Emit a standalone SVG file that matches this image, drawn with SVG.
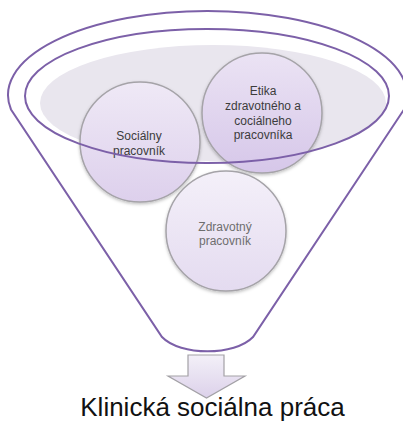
<svg xmlns="http://www.w3.org/2000/svg" width="403" height="422" viewBox="0 0 403 422">
<style>
.ring{fill:none;stroke:#7c60a8;stroke-width:2}
.circ{stroke:#a5a3a8;stroke-width:1.5}
.t{font-family:"Liberation Sans",Arial,sans-serif;font-size:12px;text-anchor:middle;fill:#3c3c3c}
.tz{fill:#6e6e6e}
.big{font-family:"Liberation Sans",Arial,sans-serif;font-size:26px;text-anchor:middle;fill:#111}
</style>
<defs>
<linearGradient id="g1" x1="0" y1="0" x2="0" y2="1">
<stop offset="0" stop-color="#efe9f6"/><stop offset="1" stop-color="#ddd0ec"/>
</linearGradient>
<linearGradient id="g2" x1="0" y1="0" x2="0" y2="1">
<stop offset="0" stop-color="#ebe3f4"/><stop offset="1" stop-color="#d6c7e9"/>
</linearGradient>
<linearGradient id="g3" x1="0" y1="0" x2="0" y2="1">
<stop offset="0" stop-color="#f4f0f9"/><stop offset="1" stop-color="#e4dbf0"/>
</linearGradient>
<linearGradient id="ga" x1="0" y1="0" x2="0" y2="1">
<stop offset="0" stop-color="#f3f0f8"/><stop offset="1" stop-color="#dcd1ea"/>
</linearGradient>
<filter id="sh" x="-20%" y="-20%" width="140%" height="140%">
<feDropShadow dx="0" dy="1.5" stdDeviation="1.5" flood-color="#000" flood-opacity="0.25"/>
</filter>
</defs>
<g id="funnel-bg">
<ellipse cx="213" cy="103" rx="173" ry="58" fill="#e9e6ee"/>
</g>
<g id="node-socialny">
<circle class="circ" cx="140" cy="142" r="60" fill="url(#g1)" filter="url(#sh)"/>
<text class="t" x="139" y="140">Sociálny</text>
<text class="t" x="139" y="154.5">pracovník</text>
</g>
<g id="node-etika">
<circle class="circ" cx="262" cy="113" r="60" fill="url(#g2)" filter="url(#sh)"/>
<text class="t" x="263" y="95">Etika</text>
<text class="t" x="263" y="109.5">zdravotného a</text>
<text class="t" x="263" y="124.5">cociálneho</text>
<text class="t" x="263" y="139">pracovníka</text>
</g>
<g id="node-zdravotny">
<circle class="circ" cx="226" cy="231" r="60" fill="url(#g3)" filter="url(#sh)"/>
<text class="t tz" x="225" y="231">Zdravotný</text>
<text class="t tz" x="225" y="245">pracovník</text>
</g>
<g id="connectors">
<path class="ring" d="M 11 109.5 A 199.5 84 0 1 1 404 109.5 L 253 337 C 235 356 180 356 162 337 Z"/>
<ellipse class="ring" cx="207" cy="96" rx="182" ry="67"/>
<path d="M 188 355 L 224 355 L 224 376 L 245 376 L 206.5 398 L 168 376 L 188 376 Z" fill="url(#ga)" stroke="#a3a1a6" stroke-width="1.2" stroke-linejoin="miter"/>
</g>
<g id="node-result">
<text class="big" x="212.5" y="415.5">Klinická sociálna práca</text>
</g>
</svg>
